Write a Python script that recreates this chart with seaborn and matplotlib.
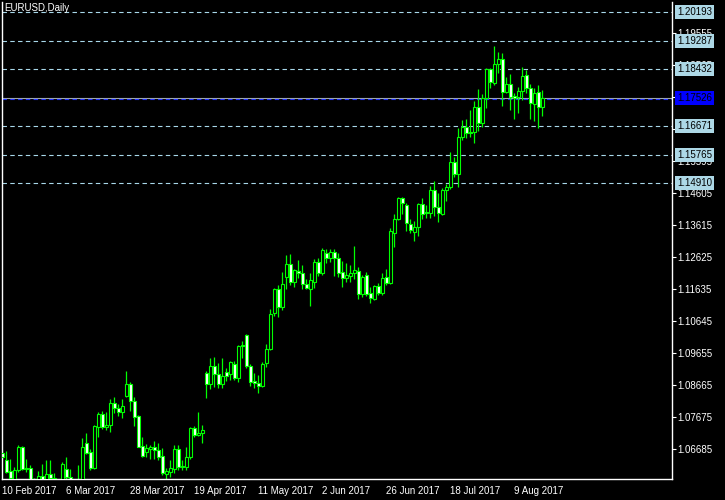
import numpy as np
import pandas as pd
import matplotlib
matplotlib.use("Agg")
import matplotlib.pyplot as plt
import matplotlib.transforms as mtransforms
import seaborn as sns

# EURUSD daily bars, 10 Feb 2017 .. 18 Aug 2017
opens = [1.0655, 1.0635, 1.0600, 1.0575, 1.0603, 1.0673, 1.0605, 1.0609, 1.0540, 1.0557,
         1.0583, 1.0562, 1.0590, 1.0578, 1.0545, 1.0505, 1.0606, 1.0581, 1.0567, 1.0545,
         1.0570, 1.0686, 1.0658, 1.0609, 1.0735, 1.0775, 1.0736, 1.0741, 1.0810, 1.0794,
         1.0782, 1.0831, 1.0868, 1.0816, 1.0770, 1.0676, 1.0658, 1.0668, 1.0673, 1.0664,
         1.0645, 1.0590, 1.0598, 1.0606, 1.0667, 1.0612, 1.0612, 1.0642, 1.0732, 1.0710,
         1.0717, 1.0902, 1.0868, 1.0924, 1.0899, 1.0868, 1.0905, 1.0899, 1.0930, 1.0887,
         1.0985, 1.1020, 1.0924, 1.0877, 1.0872, 1.0862, 1.0933, 1.0976, 1.1088, 1.1162,
         1.1106, 1.1199, 1.1239, 1.1183, 1.1218, 1.1212, 1.1177, 1.1162, 1.1183, 1.1245,
         1.1211, 1.1273, 1.1258, 1.1276, 1.1258, 1.1214, 1.1198, 1.1204, 1.1211, 1.1218,
         1.1146, 1.1205, 1.1149, 1.1131, 1.1171, 1.1149, 1.1199, 1.1180, 1.1335, 1.1378,
         1.1443, 1.1422, 1.1363, 1.1338, 1.1354, 1.1425, 1.1400, 1.1397, 1.1468, 1.1416,
         1.1394, 1.1468, 1.1478, 1.1555, 1.1518, 1.1632, 1.1663, 1.1648, 1.1648, 1.1725,
         1.1676, 1.1753, 1.1843, 1.1799, 1.1858, 1.1873, 1.1771, 1.1796, 1.1759, 1.1756,
         1.1774, 1.1824, 1.1784, 1.1734, 1.1771, 1.1725]
highs = [1.0665, 1.0661, 1.0637, 1.0612, 1.0680, 1.0676, 1.0637, 1.0618, 1.0578, 1.0599,
         1.0621, 1.0634, 1.0634, 1.0593, 1.0556, 1.0627, 1.0643, 1.0606, 1.0575, 1.0618,
         1.0701, 1.0717, 1.0667, 1.0741, 1.0781, 1.0784, 1.0781, 1.0822, 1.0828, 1.0807,
         1.0822, 1.0908, 1.0875, 1.0828, 1.0773, 1.0704, 1.0683, 1.0680, 1.0692, 1.0686,
         1.0670, 1.0608, 1.0633, 1.0680, 1.0680, 1.0633, 1.0673, 1.0735, 1.0738, 1.0781,
         1.0741, 1.0908, 1.0949, 1.0952, 1.0934, 1.0949, 1.0918, 1.0940, 1.0940, 1.0989,
         1.1001, 1.1022, 1.0930, 1.0903, 1.0896, 1.0937, 1.0992, 1.1100, 1.1165, 1.1174,
         1.1214, 1.1267, 1.1270, 1.1224, 1.1252, 1.1236, 1.1193, 1.1211, 1.1255, 1.1258,
         1.1289, 1.1286, 1.1286, 1.1286, 1.1273, 1.1249, 1.1242, 1.1236, 1.1295, 1.1230,
         1.1205, 1.1214, 1.1168, 1.1174, 1.1180, 1.1211, 1.1224, 1.1350, 1.1394, 1.1446,
         1.1446, 1.1428, 1.1378, 1.1372, 1.1428, 1.1443, 1.1422, 1.1480, 1.1496, 1.1459,
         1.1474, 1.1487, 1.1586, 1.1571, 1.1660, 1.1685, 1.1688, 1.1716, 1.1744, 1.1781,
         1.1765, 1.1846, 1.1846, 1.1914, 1.1895, 1.1892, 1.1818, 1.1827, 1.1768, 1.1787,
         1.1849, 1.1840, 1.1796, 1.1784, 1.1793, 1.1778]
lows = [1.0633, 1.0593, 1.0565, 1.0520, 1.0597, 1.0603, 1.0598, 1.0526, 1.0494, 1.0535,
        1.0555, 1.0550, 1.0566, 1.0518, 1.0495, 1.0495, 1.0565, 1.0560, 1.0535, 1.0525,
        1.0565, 1.0652, 1.0603, 1.0606, 1.0704, 1.0729, 1.0726, 1.0720, 1.0779, 1.0770,
        1.0763, 1.0828, 1.0785, 1.0738, 1.0673, 1.0642, 1.0642, 1.0636, 1.0636, 1.0633,
        1.0587, 1.0575, 1.0580, 1.0593, 1.0603, 1.0603, 1.0603, 1.0636, 1.0704, 1.0707,
        1.0686, 1.0825, 1.0853, 1.0859, 1.0856, 1.0856, 1.0878, 1.0881, 1.0881, 1.0875,
        1.0949, 1.0918, 1.0862, 1.0856, 1.0841, 1.0859, 1.0921, 1.0973, 1.1079, 1.1076,
        1.1097, 1.1162, 1.1174, 1.1168, 1.1196, 1.1162, 1.1162, 1.1110, 1.1165, 1.1202,
        1.1205, 1.1242, 1.1245, 1.1202, 1.1199, 1.1168, 1.1183, 1.1183, 1.1193, 1.1131,
        1.1137, 1.1140, 1.1119, 1.1128, 1.1143, 1.1143, 1.1174, 1.1178, 1.1292, 1.1375,
        1.1394, 1.1341, 1.1335, 1.1310, 1.1326, 1.1378, 1.1381, 1.1381, 1.1388, 1.1369,
        1.1391, 1.1434, 1.1471, 1.1509, 1.1478, 1.1623, 1.1629, 1.1632, 1.1614, 1.1651,
        1.1663, 1.1722, 1.1784, 1.1793, 1.1830, 1.1728, 1.1768, 1.1716, 1.1688, 1.1706,
        1.1747, 1.1768, 1.1688, 1.1682, 1.1660, 1.1697]
closes = [1.0643, 1.0596, 1.0578, 1.0603, 1.0673, 1.0605, 1.0609, 1.0540, 1.0558, 1.0584,
          1.0562, 1.0590, 1.0578, 1.0545, 1.0505, 1.0621, 1.0581, 1.0567, 1.0545, 1.0570,
          1.0673, 1.0655, 1.0609, 1.0738, 1.0775, 1.0735, 1.0742, 1.0810, 1.0794, 1.0782,
          1.0800, 1.0868, 1.0816, 1.0767, 1.0674, 1.0645, 1.0670, 1.0674, 1.0664, 1.0642,
          1.0593, 1.0599, 1.0608, 1.0667, 1.0612, 1.0615, 1.0642, 1.0732, 1.0710, 1.0718,
          1.0727, 1.0868, 1.0924, 1.0899, 1.0868, 1.0893, 1.0895, 1.0937, 1.0887, 1.0986,
          1.0989, 1.0924, 1.0875, 1.0873, 1.0862, 1.0930, 1.0976, 1.1085, 1.1162, 1.1106,
          1.1177, 1.1239, 1.1183, 1.1221, 1.1212, 1.1177, 1.1167, 1.1190, 1.1245, 1.1211,
          1.1283, 1.1258, 1.1276, 1.1258, 1.1211, 1.1196, 1.1207, 1.1211, 1.1221, 1.1146,
          1.1199, 1.1146, 1.1134, 1.1171, 1.1149, 1.1196, 1.1180, 1.1341, 1.1378, 1.1443,
          1.1428, 1.1366, 1.1345, 1.1354, 1.1425, 1.1394, 1.1397, 1.1468, 1.1416, 1.1397,
          1.1468, 1.1478, 1.1555, 1.1518, 1.1632, 1.1663, 1.1645, 1.1645, 1.1725, 1.1676,
          1.1753, 1.1843, 1.1802, 1.1858, 1.1873, 1.1771, 1.1796, 1.1756, 1.1753, 1.1774,
          1.1821, 1.1784, 1.1737, 1.1768, 1.1725, 1.17526]

date_labels = ["10 Feb 2017", "6 Mar 2017", "28 Mar 2017", "19 Apr 2017", "11 May 2017",
               "2 Jun 2017", "26 Jun 2017", "18 Jul 2017", "9 Aug 2017"]
price_ticks = [1.06685, 1.07675, 1.08665, 1.09655, 1.10645, 1.11635, 1.12625,
               1.13615, 1.14605, 1.15595, 1.16585, 1.17575, 1.18565, 1.19555]
level_lines = [1.20193, 1.19287, 1.18432, 1.16671, 1.15765, 1.14910]
last_price = 1.17526

df = pd.DataFrame({"open": opens, "high": highs, "low": lows, "close": closes})
df["bar"] = np.arange(len(df))
df["bull"] = df["close"] >= df["open"]

sns.set_theme(style="dark", rc={"axes.facecolor": "black", "figure.facecolor": "black"})
plt.rcParams["font.family"] = ["Liberation Sans", "DejaVu Sans"]

lime = "#00ff00"
fig = plt.figure(figsize=(7.25, 5), dpi=100)
ax = fig.add_axes([2 / 725, 21 / 500, 670 / 725, 477 / 500])

# wicks then bodies (black = up bar, white = down bar, MT4 default)
ax.vlines(df["bar"], df["low"], df["high"], color=lime, linewidth=0.9, zorder=2)
body_lo = df[["open", "close"]].min(axis=1)
body_h = (df["close"] - df["open"]).abs().clip(lower=0.00004)
ax.bar(df["bar"], body_h, bottom=body_lo, width=0.55,
       color=np.where(df["bull"], "black", "white"),
       edgecolor=lime, linewidth=0.8, zorder=3)

# horizontal levels
for lvl in level_lines:
    ax.axhline(lvl, color="#a8d8ea", linewidth=0.8, linestyle=(0, (4, 3)), zorder=1)
# bid line (gray) with the blue dashed level line just under it
ax.axhline(last_price, color="#a0a8b4", linewidth=0.8, zorder=1)
below = mtransforms.offset_copy(ax.get_yaxis_transform(), fig=fig, x=0, y=-1.2, units="dots")
ax.plot([0, 1], [last_price, last_price], transform=below, color="#2030ff",
        linewidth=0.8, linestyle=(0, (4, 3)), zorder=1)

ax.set_xlim(-0.125, 167.4)
ax.set_ylim(1.0575, 1.2050)

ax.set_xticks(df["bar"][::16])
ax.set_xticklabels(date_labels, ha="left")
ax.set_yticks(price_ticks)
ax.set_yticklabels([f"{p:.5f}" for p in price_ticks])
ax.yaxis.tick_right()
ax.tick_params(axis="x", colors="white", length=4, width=0.8, labelsize=7, pad=1, direction="out")
ax.tick_params(axis="y", colors="white", length=3, width=0.8, labelsize=7, pad=1, direction="out")
ax.grid(False)

for side in ["left", "right", "bottom"]:
    ax.spines[side].set_color("white")
    ax.spines[side].set_linewidth(1.0)
ax.spines["top"].set_visible(False)

# price label boxes on the right scale
ytrans = ax.get_yaxis_transform()
for lvl in level_lines:
    ax.annotate(f"{lvl:.5f}", xy=(1, lvl), xycoords=ytrans, xytext=(5, 0),
                textcoords="offset pixels", ha="left", va="center", fontsize=7, color="black",
                bbox=dict(boxstyle="square,pad=0.18", fc="#add8e6", ec="none"),
                annotation_clip=False, zorder=10)
ax.annotate(f"{last_price:.5f}", xy=(1, last_price), xycoords=ytrans, xytext=(5, 0),
            textcoords="offset pixels", ha="left", va="center", fontsize=7, color="black",
            bbox=dict(boxstyle="square,pad=0.18", fc="#0000ff", ec="none"),
            annotation_clip=False, zorder=10)

ax.text(0.004, 0.997, "EURUSD,Daily", transform=ax.transAxes, color="white",
        fontsize=7, ha="left", va="top", zorder=10)

fig.savefig("out.png", dpi=100, facecolor="black")
